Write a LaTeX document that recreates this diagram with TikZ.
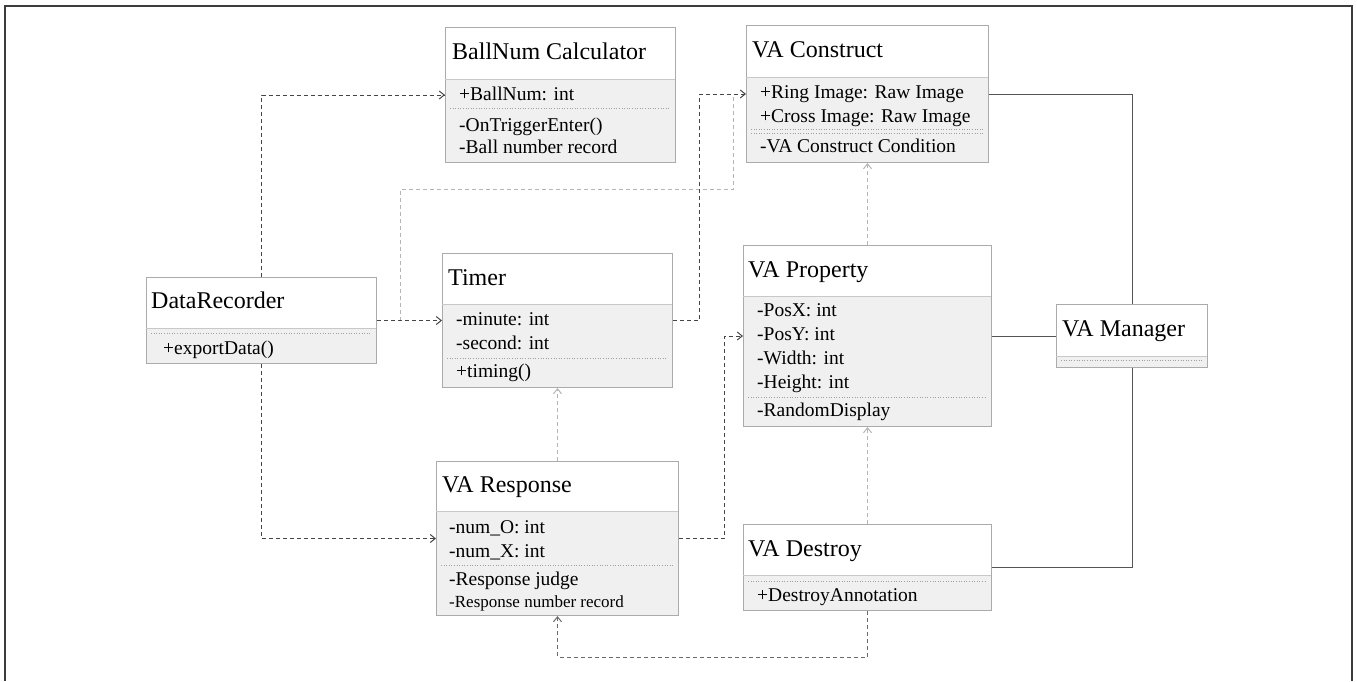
\documentclass[tikz,border=0pt]{standalone}
\usepackage{fontspec}
\setmainfont{Liberation Serif}
\usetikzlibrary{arrows.meta}

\definecolor{boxgray}{HTML}{ABABAB}
\definecolor{divgray}{HTML}{C8C8C8}
\definecolor{secfill}{HTML}{F0F0F0}
\definecolor{dotgray}{HTML}{A0A0A0}
\definecolor{dotblue}{HTML}{7FA6D9}
\definecolor{darkline}{HTML}{454545}
\definecolor{midline}{HTML}{6A6A6A}
\definecolor{lightline}{HTML}{B5B5B5}
\definecolor{solidline}{HTML}{555555}
\definecolor{framegray}{HTML}{3C3C3C}

\tikzset{
  classbox/.style={draw=boxgray, line width=1pt, anchor=north west, inner sep=0pt},
  ctitle/.style={anchor=west, inner sep=0pt, font=\fontsize{24}{28}\selectfont, text height=17pt, text depth=5pt},
  cattr/.style={anchor=west, inner sep=0pt, font=\fontsize{19.5}{23}\selectfont, text height=14pt, text depth=4pt},
  secline/.style={draw=divgray, line width=0.8pt},
  sepdot/.style={draw=dotgray, line width=0.6pt, dotted},
  dep/.style={draw=darkline, line width=1pt, dash pattern=on 4pt off 3pt, -{Straight Barb[length=5pt,width=8pt]}},
  deplight/.style={dep, draw=lightline},
  depmid/.style={dep, draw=midline},
  assoc/.style={draw=solidline, line width=1pt}
}

\begin{document}
\begin{tikzpicture}[x=1pt, y=-1pt]
    \useasboundingbox (0,0) rectangle (1357,681);
    \draw[framegray, line width=1.5pt] (5,681) -- (5,6) -- (1352,6) -- (1352,681);

    % BallNum Calculator
    \fill[secfill] (445,79) rectangle (675,162);
    \node[classbox, minimum width=230pt, minimum height=135pt] (ballnum) at (445,27) {};
    \draw[secline] (445,79) -- (675,79);
    \node[ctitle] (ballnumT) at (452,53) {BallNum Calculator};
    \node[cattr] (ballnumA1) at (459,95) {+BallNum: int};
    \draw[sepdot] (450,108) -- (670,108);
    \node[cattr] (ballnumM1) at (459,126) {-OnTriggerEnter()};
    \node[cattr] (ballnumM2) at (459,148) {-Ball number record};

    % VA Construct
    \fill[secfill] (746,77) rectangle (988,162);
    \node[classbox, minimum width=242pt, minimum height=137pt] (vacons) at (746,25) {};
    \draw[secline] (746,77) -- (988,77);
    \node[ctitle] (vaconsT) at (752,51) {VA Construct};
    \node[cattr] (vaconsA1) at (760,93) {+Ring Image: Raw Image};
    \node[cattr] (vaconsA2) at (760,117) {+Cross Image: Raw Image};
    \draw[sepdot] (751,129) -- (983,129);
    \draw[sepdot, draw=dotblue] (751,133) -- (983,133);
    \node[cattr] (vaconsM1) at (760,147) {-VA Construct Condition};

    % DataRecorder
    \fill[secfill] (146,328) rectangle (376,363);
    \node[classbox, minimum width=230pt, minimum height=86pt] (datarec) at (146,277) {};
    \draw[secline] (146,328) -- (376,328);
    \draw[sepdot] (151,333) -- (371,333);
    \node[ctitle] (datarecT) at (151,302) {DataRecorder};
    \node[cattr] (datarecM1) at (163,349) {+exportData()};

    % Timer
    \fill[secfill] (442,304) rectangle (672,387);
    \node[classbox, minimum width=230pt, minimum height=134pt] (timer) at (442,253) {};
    \draw[secline] (442,304) -- (672,304);
    \node[ctitle] (timerT) at (448,279) {Timer};
    \node[cattr] (timerA1) at (456,320) {-minute: int};
    \node[cattr] (timerA2) at (456,344) {-second: int};
    \draw[sepdot] (447,358) -- (667,358);
    \node[cattr] (timerM1) at (456,372) {+timing()};

    % VA Property
    \fill[secfill] (743,296) rectangle (991,426);
    \node[classbox, minimum width=248pt, minimum height=181pt] (vaprop) at (743,245) {};
    \draw[secline] (743,296) -- (991,296);
    \node[ctitle] (vapropT) at (748,271) {VA Property};
    \node[cattr] (vapropA1) at (757,311) {-PosX: int};
    \node[cattr] (vapropA2) at (757,335) {-PosY: int};
    \node[cattr] (vapropA3) at (757,359) {-Width: int};
    \node[cattr] (vapropA4) at (757,383) {-Height: int};
    \draw[sepdot] (748,397) -- (986,397);
    \node[cattr] (vapropM1) at (757,411) {-RandomDisplay};

    % VA Manager
    \fill[secfill] (1056,356) rectangle (1207,367);
    \node[classbox, minimum width=151pt, minimum height=63pt] (vaman) at (1056,304) {};
    \draw[secline] (1056,356) -- (1207,356);
    \draw[sepdot] (1061,360) -- (1202,360);
    \node[ctitle] (vamanT) at (1062,330) {VA Manager};

    % VA Response
    \fill[secfill] (436,511) rectangle (678,615);
    \node[classbox, minimum width=242pt, minimum height=154pt] (varesp) at (436,461) {};
    \draw[secline] (436,511) -- (678,511);
    \node[ctitle] (varespT) at (442,486) {VA Response};
    \node[cattr] (varespA1) at (449,528) {-num\_O: int};
    \node[cattr] (varespA2) at (449,552) {-num\_X: int};
    \draw[sepdot] (441,565) -- (673,565);
    \node[cattr] (varespM1) at (449,580) {-Response judge};
    \node[cattr, font=\fontsize{17}{20}\selectfont] (varespM2) at (449,602) {-Response number record};

    % VA Destroy
    \fill[secfill] (743,575) rectangle (991,610);
    \node[classbox, minimum width=248pt, minimum height=86pt] (vadest) at (743,524) {};
    \draw[secline] (743,575) -- (991,575);
    \draw[sepdot] (748,581) -- (986,581);
    \node[ctitle] (vadestT) at (748,550) {VA Destroy};
    \node[cattr] (vadestM1) at (757,596) {+DestroyAnnotation};

    % bends
    \coordinate (tbend) at ([xshift=26pt]timer.east);
    \coordinate (rbend) at ([xshift=45pt]varesp.east);
    \coordinate (drsplit) at ([xshift=23pt]datarec.east);
    \coordinate (lighttop) at (733,189);
    \coordinate (dbottom) at ([yshift=-46pt]vadest.south);

    % dependencies
    \draw[deplight, -] (drsplit) |- (lighttop) |- (vacons.west);
    \draw[dep] (datarec.north) |- (ballnum.west);
    \draw[dep] (datarec.east) -- (timer.west);
    \draw[dep] (datarec.south) |- (varesp.west);
    \draw[dep] (timer.east) -- (tbend) |- (vacons.west);
    \draw[dep] (varesp.east) -- (rbend) |- (vaprop.west);
    \draw[deplight] (varesp.north) -- (timer.south);
    \draw[deplight] (vaprop.north) -- (vacons.south);
    \draw[deplight] (vadest.north) -- (vaprop.south);
    \draw[depmid] (vadest.south) -- (dbottom) -| (varesp.south);

    % associations
    \draw[assoc] (vacons.east) -| (vaman.north);
    \draw[assoc] (vaprop.east) -- (vaman.west);
    \draw[assoc] (vadest.east) -| (vaman.south);
\end{tikzpicture}
\end{document}
